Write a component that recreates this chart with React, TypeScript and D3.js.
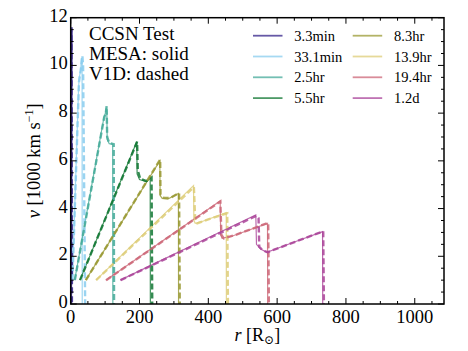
import React from 'react';
import * as d3 from 'd3';

const width = 468;
const height = 351;
const margin = { left: 70.7, right: 24, top: 17.7, bottom: 47 };

// snapshot labels and colours (legend order)
const labels = ['3.3min', '33.1min', '2.5hr', '5.5hr', '8.3hr', '13.9hr', '19.4hr', '1.2d'];
const colors = ['#332288', '#88CCEE', '#44AA99', '#117733', '#999933', '#DDCC77', '#CC6677', '#AA4499'];

// MESA profiles: [r (Rsun), v (1000 km/s)]
const mesa3min = [[0.5, 1], [1.5, 11.5], [2, 11.4], [2.5, 0]];
const mesa33min = [[5, 1], [23, 9.1], [25, 9.5], [29, 9.8], [31, 10.3], [33, 10.2], [33.5, 0]];
const mesa25hr = [[11.6, 1], [97, 7.85], [100, 7.95], [103, 8.2], [105, 8.1], [106, 6.9], [112, 6.72], [122, 6.7], [122.5, 0]];
const mesa55hr = [[27, 1], [192, 6.8], [193, 5.45], [200, 5.22], [220, 5.13], [231, 5.27], [231.5, 0]];
const mesa83hr = [[43.6, 1], [259, 6.0], [260, 4.55], [266, 4.42], [282, 4.4], [313, 4.63], [313.5, 0]];
const mesa139hr = [[73.6, 1], [357, 4.96], [358, 3.5], [362, 3.38], [380, 3.45], [452, 3.83], [452.5, 0]];
const mesa194hr = [[102, 1], [434.5, 4.32], [436, 2.9], [440, 2.75], [470, 2.85], [572, 3.38], [572.5, 0]];
const mesa12d = [[144, 1], [538, 3.73], [540, 2.5], [552, 2.3], [570, 2.17], [650, 2.6], [732, 3.03], [732.5, 0]];

// V1D profiles
const v1d3min = [[0.5, 1], [2.5, 11.6], [3, 11.3], [3.5, 0]];
const v1d33min = [[5, 1], [24, 9.3], [27, 9.6], [31, 10.0], [34, 10.4], [36, 10.0], [42, 0]];
const v1d25hr = [[12, 1], [97, 7.8], [102, 8.0], [104.5, 8.3], [106, 7.0], [112, 6.75], [125, 6.7], [126, 0]];
const v1d55hr = [[27, 1], [193, 6.8], [195, 5.6], [202, 5.25], [220, 5.15], [235, 5.3], [237, 0]];
const v1d83hr = [[44, 1], [260, 6.05], [261, 4.6], [270, 4.45], [290, 4.45], [315, 4.65], [317, 0]];
const v1d139hr = [[74, 1], [358, 4.9], [362, 3.5], [368, 3.38], [400, 3.55], [455, 3.8], [457, 0]];
const v1d194hr = [[103, 1], [435, 4.3], [438, 2.9], [445, 2.75], [480, 2.9], [574, 3.4], [576, 0]];
const v1d12d = [[145, 1], [540, 3.7], [546, 3.6], [548, 2.4], [558, 2.25], [572, 2.17], [734, 3.05], [736, 0]];

const mesaRuns = [mesa3min, mesa33min, mesa25hr, mesa55hr, mesa83hr, mesa139hr, mesa194hr, mesa12d];
const v1dRuns = [v1d3min, v1d33min, v1d25hr, v1d55hr, v1d83hr, v1d139hr, v1d194hr, v1d12d];

const xTicks = [0, 200, 400, 600, 800, 1000];
const yTicks = [0, 2, 4, 6, 8, 10, 12];
const notes = ['CCSN Test', 'MESA: solid', 'V1D: dashed'];

const serif = "'Liberation Serif', 'Times New Roman', Times, 'DejaVu Serif', serif";

export default function App() {
  const x = d3.scaleLinear().domain([0, 1085]).range([margin.left, width - margin.right]);
  const y = d3.scaleLinear().domain([0, 12]).range([height - margin.bottom, margin.top]);
  const line = d3.line<number[]>().x(d => x(d[0])).y(d => y(d[1]));

  const x0 = x.range()[0], x1 = x.range()[1];
  const y0 = y.range()[0], y1 = y.range()[1];

  const xMinor = d3.range(0, 1085, 50).filter(v => v % 200 !== 0);
  const yMinor = d3.range(0, 12, 0.5).filter(v => v % 2 !== 0);

  return (
    <svg width={width} height={height} style={{ position: 'absolute', left: 0, top: 0, fontFamily: serif }}>
      <rect width={width} height={height} fill="white" />
      <defs>
        <clipPath id="plot">
          <rect x={x0} y={y1} width={x1 - x0} height={y0 - y1} />
        </clipPath>
      </defs>

      <g clipPath="url(#plot)">
        {mesaRuns.map((run, i) => (
          <path key={'m' + i} d={line(run) || ''} fill="none" stroke={colors[i]} strokeWidth={1.2} strokeOpacity={0.8} />
        ))}
        {v1dRuns.map((run, i) => (
          <path key={'v' + i} d={line(run) || ''} fill="none" stroke={colors[i]} strokeWidth={2.4} strokeDasharray="6,3" strokeOpacity={0.85} />
        ))}
      </g>

      {/* ticks on all sides, pointing in */}
      <g stroke="black" strokeWidth={1}>
        {xTicks.map(t => (
          <g key={'xt' + t}>
            <line x1={x(t)} x2={x(t)} y1={y0} y2={y0 - 6} />
            <line x1={x(t)} x2={x(t)} y1={y1} y2={y1 + 6} />
          </g>
        ))}
        {xMinor.map(t => (
          <g key={'xm' + t}>
            <line x1={x(t)} x2={x(t)} y1={y0} y2={y0 - 3} />
            <line x1={x(t)} x2={x(t)} y1={y1} y2={y1 + 3} />
          </g>
        ))}
        {yTicks.map(t => (
          <g key={'yt' + t}>
            <line x1={x0} x2={x0 + 6} y1={y(t)} y2={y(t)} />
            <line x1={x1} x2={x1 - 6} y1={y(t)} y2={y(t)} />
          </g>
        ))}
        {yMinor.map(t => (
          <g key={'ym' + t}>
            <line x1={x0} x2={x0 + 3} y1={y(t)} y2={y(t)} />
            <line x1={x1} x2={x1 - 3} y1={y(t)} y2={y(t)} />
          </g>
        ))}
      </g>
      <rect x={x0} y={y1} width={x1 - x0} height={y0 - y1} fill="none" stroke="black" strokeWidth={1.5} />

      {xTicks.map(t => (
        <text key={'xl' + t} x={x(t)} y={y0 + 18.5} textAnchor="middle" fontSize={18.5}>{t}</text>
      ))}
      {yTicks.map(t => (
        <text key={'yl' + t} x={x0 - 3} y={y(t) + 4} textAnchor="end" fontSize={18.5}>{t}</text>
      ))}

      <text x={(x0 + x1) / 2} y={340.5} textAnchor="middle" fontSize={18}>
        <tspan fontStyle="italic">r</tspan> [R<tspan fontSize={12} dy={3.5}>⊙</tspan><tspan dy={-3.5}>]</tspan>
      </text>
      <text transform={`translate(39.5,${(y0 + y1) / 2}) rotate(-90)`} textAnchor="middle" fontSize={18.5}>
        <tspan fontStyle="italic">v</tspan> [1000 km s<tspan fontSize={12} dy={-7}>−1</tspan><tspan dy={7}>]</tspan>
      </text>

      {notes.map((n, i) => (
        <text key={n} x={89} y={40 + i * 20} fontSize={19}>{n}</text>
      ))}

      {labels.map((lab, i) => {
        const col = Math.floor(i / 4);
        const row = i % 4;
        const lx = col === 0 ? 253 : 352.7;
        const ly = 35.7 + row * 20.8;
        return (
          <g key={lab}>
            <line x1={lx} x2={lx + 29.5} y1={ly} y2={ly} stroke={colors[i]} strokeWidth={1.8} strokeOpacity={0.75} />
            <text x={lx + 41.3} y={ly + 5} fontSize={14.5}>{lab}</text>
          </g>
        );
      })}
    </svg>
  );
}
